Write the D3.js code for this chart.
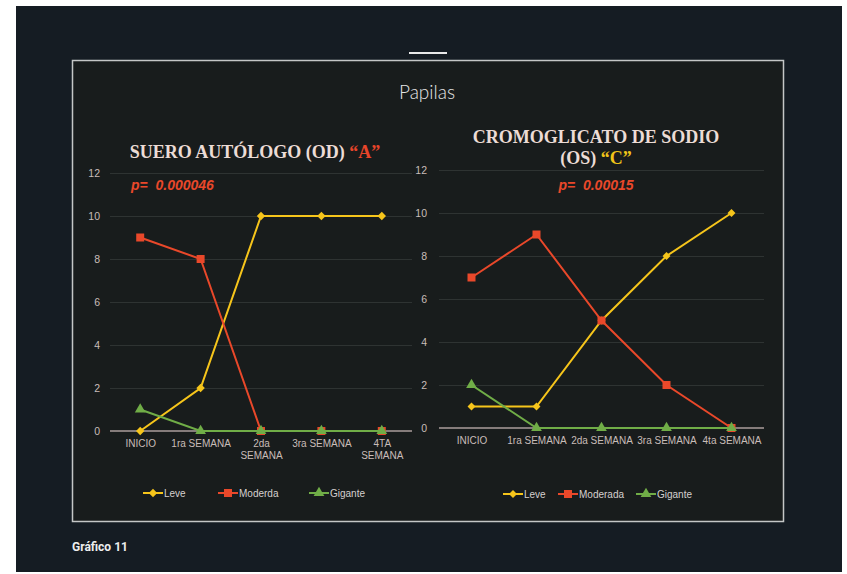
<!DOCTYPE html>
<html>
<head>
<meta charset="utf-8">
<script src="https://cdn.jsdelivr.net/npm/d3@7/dist/d3.min.js"></script>
<style>
  html, body { margin: 0; padding: 0; background: #ffffff; }
  svg { display: block; }
</style>
</head>
<body>
<script>
// Weekly counts of papillae by severity, two treatments
const weeksA = ["INICIO", "1ra SEMANA", "2da|SEMANA", "3ra SEMANA", "4TA|SEMANA"];
const weeksC = ["INICIO", "1ra SEMANA", "2da SEMANA", "3ra SEMANA", "4ta SEMANA"];
const yTicks = [0, 2, 4, 6, 8, 10, 12];

const leveA = [0, 2, 10, 10, 10];
const moderadaA = [9, 8, 0, 0, 0];
const giganteA = [1, 0, 0, 0, 0];

const leveC = [1, 1, 5, 8, 10];
const moderadaC = [7, 9, 5, 2, 0];
const giganteC = [2, 0, 0, 0, 0];

const seriesNamesA = ["Leve", "Moderda", "Gigante"];
const seriesNamesC = ["Leve", "Moderada", "Gigante"];

const W = 847, H = 574;
const colors = { leve: "#f6c51b", moderada: "#e9482a", gigante: "#70ad47" };
const tickColor = "#c9bdb9";

const svg = d3.select("body").append("svg").attr("width", W).attr("height", H);

// page background and frame
svg.append("rect").attr("x", 16).attr("y", 6).attr("width", 826).attr("height", 566).attr("fill", "#151c23");
svg.append("line").attr("x1", 409).attr("x2", 447).attr("y1", 53).attr("y2", 53)
  .attr("stroke", "#e8e8e8").attr("stroke-width", 2);
svg.append("rect").attr("x", 72.5).attr("y", 60.5).attr("width", 711).attr("height", 461)
  .attr("fill", "#181c1c").attr("stroke", "#c4c6c6").attr("stroke-width", 1.5);

svg.append("text").attr("x", 427).attr("y", 99).attr("text-anchor", "middle")
  .attr("font-family", "Lato").attr("font-weight", 300).attr("font-size", 19)
  .attr("fill", "#e6e6e6").text("Papilas");

svg.append("text").attr("x", 72).attr("y", 551)
  .attr("font-family", "Roboto").attr("font-weight", 700).attr("font-size", 12)
  .attr("fill", "#eeeeee").text("Gráfico 11");

function drawChart(cfg) {
  const g = svg.append("g");
  const x = d3.scalePoint().domain(cfg.cats).range([cfg.x0, cfg.x1]).padding(0.5);
  const y = d3.scaleLinear().domain([0, 12]).range([cfg.y0, cfg.y12]);

  // gridlines
  g.selectAll(".grid").data(yTicks.filter(t => t > 0)).join("line")
    .attr("x1", cfg.x0).attr("x2", cfg.x1)
    .attr("y1", d => y(d) + 0.5).attr("y2", d => y(d) + 0.5)
    .attr("stroke", "#2e3332").attr("stroke-width", 1);

  // y axis labels
  const yAxis = d3.axisLeft(y).tickValues(yTicks).tickSize(0).tickPadding(cfg.tickPad);
  const ya = g.append("g").attr("transform", `translate(${cfg.x0},0)`).call(yAxis);
  ya.select(".domain").remove();
  ya.selectAll("text").attr("fill", tickColor).attr("font-family", "Liberation Sans")
    .attr("font-size", 10.5);

  // baseline
  g.append("line").attr("x1", cfg.x0).attr("x2", cfg.x1)
    .attr("y1", y(0)).attr("y2", y(0)).attr("stroke", "#857c7b").attr("stroke-width", 2);

  // x axis labels
  const xAxis = d3.axisBottom(x).tickSize(0).tickPadding(8).tickFormat(() => "");
  const xa = g.append("g").attr("transform", `translate(0,${y(0)})`).call(xAxis);
  xa.select(".domain").remove();
  xa.selectAll(".tick").each(function (d) {
    const lines = d.split("|");
    const t = d3.select(this).append("text").attr("fill", tickColor)
      .attr("font-family", "Liberation Sans").attr("font-size", 10)
      .attr("text-anchor", "middle").attr("y", cfg.xLabelY);
    lines.forEach((s, i) => t.append("tspan").attr("x", 0).attr("dy", i === 0 ? 0 : 12).text(s));
  });

  const line = d3.line().x((d, i) => x(cfg.cats[i])).y(d => y(d));
  const sym = {
    leve: d3.symbol().type(d3.symbolDiamond2).size(cfg.diamond),
    moderada: d3.symbol().type(d3.symbolSquare).size(cfg.square),
    gigante: d3.symbol().type(d3.symbolTriangle).size(cfg.triangle)
  };

  const series = [
    { key: "leve", vals: cfg.leve },
    { key: "moderada", vals: cfg.moderada },
    { key: "gigante", vals: cfg.gigante }
  ];
  series.forEach(s => {
    g.append("path").datum(s.vals).attr("d", line).attr("fill", "none")
      .attr("stroke", colors[s.key]).attr("stroke-width", 2);
    g.selectAll(null).data(s.vals).join("path")
      .attr("d", sym[s.key])
      .attr("transform", (d, i) => `translate(${x(cfg.cats[i])},${y(d)})`)
      .attr("fill", colors[s.key]);
  });

  // legend
  cfg.legend.forEach((L, i) => {
    const key = series[i].key;
    g.append("line").attr("x1", L.x).attr("x2", L.x + 20).attr("y1", cfg.legendY).attr("y2", cfg.legendY)
      .attr("stroke", colors[key]).attr("stroke-width", 2);
    g.append("path").attr("d", sym[key]).attr("transform", `translate(${L.x + 10},${cfg.legendY})`)
      .attr("fill", colors[key]);
    g.append("text").attr("x", L.x + 21).attr("y", cfg.legendY + 3.5)
      .attr("font-family", "Liberation Sans").attr("font-size", 10).attr("fill", "#d5d0cf")
      .text(cfg.names[i]);
  });

  // titles
  cfg.title.forEach(tl => {
    const t = g.append("text").attr("x", tl.x).attr("y", tl.y).attr("text-anchor", "middle")
      .attr("font-family", "Liberation Serif").attr("font-weight", 700).attr("font-size", 18)
      .attr("fill", "#ecdcd6");
    t.append("tspan").text(tl.main);
    if (tl.tag) t.append("tspan").attr("fill", tl.tagColor).text(tl.tag);
  });
  g.append("text").attr("x", cfg.p.x).attr("y", cfg.p.y).attr("text-anchor", cfg.p.anchor)
    .attr("font-family", "Liberation Sans").attr("font-weight", 700).attr("font-style", "italic")
    .attr("font-size", 14).attr("fill", "#e9482a").attr("xml:space", "preserve").text(cfg.p.text);
}

drawChart({
  cats: weeksA, x0: 110, x1: 412, y0: 431, y12: 173, tickPad: 10, xLabelY: 16,
  leve: leveA, moderada: moderadaA, gigante: giganteA, names: seriesNamesA,
  diamond: 45, square: 64, triangle: 50,
  legendY: 493, legend: [{ x: 143 }, { x: 218 }, { x: 309 }],
  title: [{ x: 255, y: 158, main: "SUERO AUTÓLOGO (OD) ", tag: "“A”", tagColor: "#e8452a" }],
  p: { x: 131, y: 190, anchor: "start", text: "p=  0.000046" }
});

drawChart({
  cats: weeksC, x0: 439, x1: 764, y0: 428, y12: 170, tickPad: 12, xLabelY: 16,
  leve: leveC, moderada: moderadaC, gigante: giganteC, names: seriesNamesC,
  diamond: 40, square: 64, triangle: 50,
  legendY: 494, legend: [{ x: 503 }, { x: 558 }, { x: 636 }],
  title: [
    { x: 596, y: 143, main: "CROMOGLICATO DE SODIO" },
    { x: 596, y: 164, main: "(OS) ", tag: "“C”", tagColor: "#f0c419" }
  ],
  p: { x: 596, y: 190, anchor: "middle", text: "p=  0.00015" }
});
</script>
</body>
</html>
